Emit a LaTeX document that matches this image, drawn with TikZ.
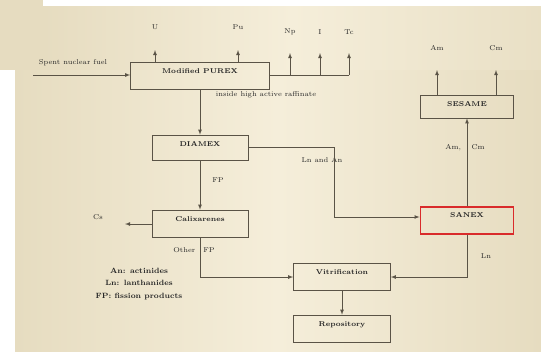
\documentclass[tikz,border=0pt]{standalone}
\usepackage{tikz}
\usetikzlibrary{positioning}

\definecolor{slide}{HTML}{F5EEDA}
\definecolor{slideedge}{HTML}{E6DCC0}
\definecolor{ink}{HTML}{5A5346}
\definecolor{hilite}{HTML}{D92B2B}

\begin{document}
\begin{tikzpicture}[x=0.03cm,y=-0.03cm,
  line width=0.5pt,
  every node/.style={font=\fontsize{6}{7}\selectfont,text=black!85},
  box/.style={draw=ink,minimum width=2.88cm,minimum height=0.81cm,inner sep=0pt},
  lbl/.style={font=\fontsize{6}{7}\selectfont\bfseries},
  arr/.style={draw=ink,-latex},
  ln/.style={draw=ink}]
\useasboundingbox (0,0) rectangle (541,351);

% slide background
\fill[slideedge] (0,0) rectangle (43,70);
\shade[left color=slideedge,right color=slideedge!80!slide,middle color=slide] (43,6) rectangle (541,70);
\shade[left color=slideedge,right color=slideedge,middle color=slide] (15,70) rectangle (541,351);

% boxes
\node[box,minimum width=4.17cm,label={[lbl,anchor=north,yshift=-2pt]north:Modified PUREX}] (purex) at (200,76) {};
\node[box,minimum height=0.75cm,label={[lbl,anchor=north,yshift=-2pt]north:DIAMEX}] (diamex) at (200,147.5) {};
\node[box,label={[lbl,anchor=north,yshift=-2pt]north:Calixarenes}] (calix) at (200,223.5) {};
\node[box,minimum width=2.91cm,label={[lbl,anchor=north,yshift=-2pt]north:Vitrification}] (vitri) at (342,277) {};
\node[box,minimum width=2.91cm,label={[lbl,anchor=north,yshift=-2pt]north:Repository}] (repos) at (342,328.5) {};
\node[box,draw=hilite,line width=1.6pt,minimum width=2.79cm,label={[lbl,anchor=north,yshift=-2pt]north:SANEX}] (sanex) at (467,220.5) {};
\node[box,minimum width=2.79cm,minimum height=0.69cm,label={[lbl,anchor=north,yshift=-2pt]north:SESAME}] (sesame) at (467,106.5) {};

% labels
\node (feedlab) at (73,63) {Spent nuclear fuel};
\node (ulab) at (155,27) {U};
\node (pulab) at (238,27) {Pu};
\node (nplab) at (290,32) {Np};
\node (ilab) at (320,32) {I};
\node (tclab) at (349,32) {Tc};
\node (raflab) at (266,95) {inside high active raffinate};
\node (lnanlab) at (322,160) {Ln and An};
\node (fplab) at (218,180) {FP};
\node (cslab) at (98,217) {Cs};
\node (otherlab) at (194,250) {Other\hspace{7pt}FP};
\node (amcmlab) at (465,148) {Am,\hspace{9pt}Cm};
\node (lnlab) at (486,256) {Ln};
\node (amlab) at (437,48) {Am};
\node (cmlab) at (496,48) {Cm};
\node[lbl,font=\fontsize{6.5}{10.5}\selectfont\bfseries,align=center] (legend) at (139,284)
  {An: actinides\\Ln: lanthanides\\FP: fission products};

% free ends
\coordinate (feed) at (33,75);
\coordinate (uout) at (155,50);
\coordinate (puout) at (238,50);
\coordinate (rafbar) at (349,75);
\coordinate (npout) at (290,53);
\coordinate (iout) at (320,53);
\coordinate (tcout) at (349,53);
\coordinate (lnan) at (334,217);
\coordinate (csout) at (125,224);
\coordinate (amout) at (437,70);
\coordinate (cmout) at (496,70);

% connectors
\draw[arr] (feed) -- (feed -| purex.west);
\draw[arr] (uout |- purex.north) -- (uout);
\draw[arr] (puout |- purex.north) -- (puout);
\draw[ln] (rafbar -| purex.east) -- (rafbar);
\draw[arr] (npout |- rafbar) -- (npout);
\draw[arr] (iout |- rafbar) -- (iout);
\draw[arr] (rafbar) -- (tcout);
\draw[arr] (purex) -- (diamex);
\draw[arr] (diamex.east) -| (lnan) -- (lnan -| sanex.west);
\draw[arr] (diamex) -- (calix);
\draw[arr] (calix.west |- csout) -- (csout);
\draw[arr] (calix.south) |- (vitri.west);
\draw[arr] (sanex.south) |- (vitri.east);
\draw[arr] (vitri) -- (repos);
\draw[arr] (sanex) -- (sesame);
\draw[arr] (amout |- sesame.north) -- (amout);
\draw[arr] (cmout |- sesame.north) -- (cmout);

\end{tikzpicture}
\end{document}
